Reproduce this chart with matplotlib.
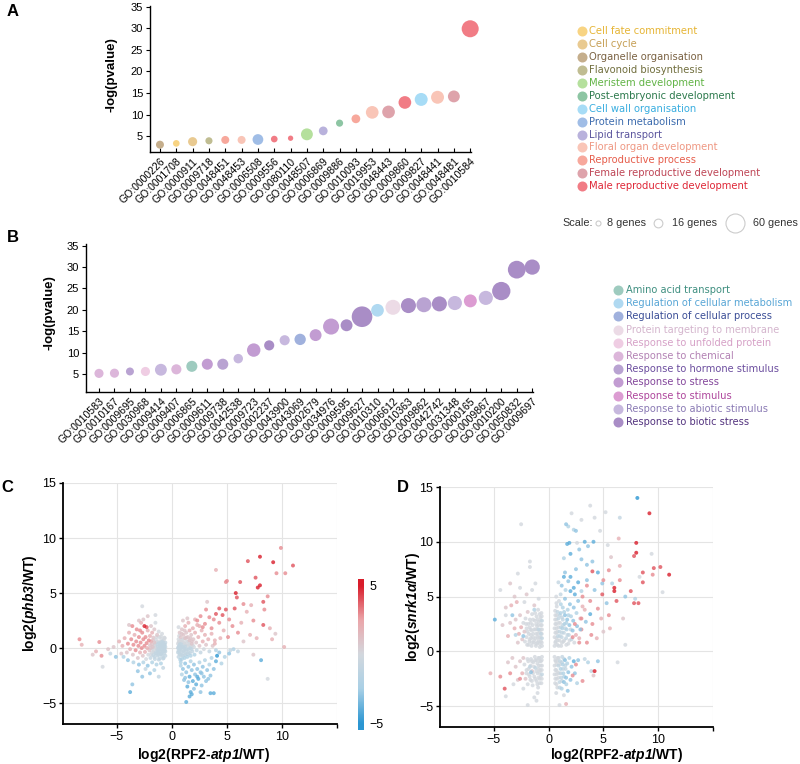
import numpy as np
import matplotlib
matplotlib.use('Agg')
import matplotlib.pyplot as plt
from matplotlib.colors import LinearSegmentedColormap

plt.rcParams['font.family'] = ['Liberation Sans', 'DejaVu Sans']
plt.rcParams['mathtext.fontset'] = 'custom'
plt.rcParams['mathtext.rm'] = 'Liberation Sans'
plt.rcParams['mathtext.it'] = 'Liberation Sans:italic'
plt.rcParams['mathtext.bf'] = 'Liberation Sans:bold'
plt.rcParams['mathtext.bfit'] = 'Liberation Sans:italic:bold'

# ---------------- panel A data: development GO terms ----------------
dev_terms = ['GO:0000226', 'GO:0001708', 'GO:0000911', 'GO:0009718', 'GO:0048451',
             'GO:0048453', 'GO:0006508', 'GO:0009556', 'GO:0080110', 'GO:0048507',
             'GO:0006869', 'GO:0009886', 'GO:0010093', 'GO:0019953', 'GO:0048443',
             'GO:0009860', 'GO:0009827', 'GO:0048441', 'GO:0048481', 'GO:0010584']
dev_logp = [3.0, 3.3, 3.7, 3.9, 4.1, 4.1, 4.2, 4.3, 4.5, 5.4,
            6.2, 8.0, 9.0, 10.5, 10.6, 12.8, 13.5, 14.0, 14.2, 29.9]
dev_genes = [14, 11, 17, 12, 14, 14, 22, 11, 8.5, 26,
             16, 12, 16, 29, 29, 29, 30, 30, 26, 49]
dev_group = ['Organelle organisation', 'Cell fate commitment', 'Cell cycle',
             'Flavonoid biosynthesis', 'Reproductive process', 'Floral organ development',
             'Protein metabolism', 'Male reproductive development', 'Male reproductive development',
             'Meristem development', 'Lipid transport', 'Post-embryonic development',
             'Reproductive process', 'Floral organ development', 'Female reproductive development',
             'Male reproductive development', 'Cell wall organisation', 'Floral organ development',
             'Female reproductive development', 'Male reproductive development']

# legend order, (circle colour, text colour)
dev_colors = {
    'Cell fate commitment': ('#f8d483', '#e6b535'),
    'Cell cycle': ('#e9ca91', '#c69f55'),
    'Organelle organisation': ('#c5ae8c', '#7a6243'),
    'Flavonoid biosynthesis': ('#c0bd92', '#716f3e'),
    'Meristem development': ('#b5e09d', '#62b446'),
    'Post-embryonic development': ('#8dc5a3', '#2d7a4d'),
    'Cell wall organisation': ('#a7dcf6', '#3aaee0'),
    'Protein metabolism': ('#a0bde6', '#3d6cae'),
    'Lipid transport': ('#b9b2dc', '#5c569e'),
    'Floral organ development': ('#f9c5b7', '#ef9883'),
    'Reproductive process': ('#f7a89c', '#e65e4c'),
    'Female reproductive development': ('#dea3ab', '#bf4656'),
    'Male reproductive development': ('#f17c85', '#df2838'),
}

# ---------------- panel B data: stress GO terms ----------------
stress_terms = ['GO:0010583', 'GO:0010167', 'GO:0009695', 'GO:0030968', 'GO:0009414',
                'GO:0009407', 'GO:0006865', 'GO:0009611', 'GO:0009738', 'GO:0042538',
                'GO:0009723', 'GO:0002237', 'GO:0043900', 'GO:0043069', 'GO:0002679',
                'GO:0034976', 'GO:0009595', 'GO:0009627', 'GO:0010310', 'GO:0006612',
                'GO:0010363', 'GO:0009862', 'GO:0042742', 'GO:0031348', 'GO:0000165',
                'GO:0009867', 'GO:0010200', 'GO:0050832', 'GO:0009697']
stress_logp = [5.15, 5.2, 5.6, 5.6, 6.0, 6.1, 6.8, 7.3, 7.3, 8.6,
               10.6, 11.7, 12.9, 13.1, 14.1, 16.1, 16.4, 18.4, 19.9, 20.6,
               21.0, 21.2, 21.4, 21.6, 22.1, 22.8, 24.4, 29.4, 30.0]
stress_genes = [17, 17, 14, 17, 26, 20, 23, 23, 23, 18,
                32, 20, 20, 24, 26, 44, 26, 70, 29, 39,
                39, 39, 39, 35, 30, 35, 56, 53, 40]
stress_group = ['Response to chemical', 'Response to chemical', 'Response to hormone stimulus',
                'Response to unfolded protein', 'Response to abiotic stimulus', 'Response to chemical',
                'Amino acid transport', 'Response to stress', 'Response to hormone stimulus',
                'Response to abiotic stimulus', 'Response to stress', 'Response to biotic stress',
                'Response to abiotic stimulus', 'Regulation of cellular process', 'Response to stress',
                'Response to stress', 'Response to biotic stress', 'Response to biotic stress',
                'Regulation of cellular metabolism', 'Protein targeting to membrane',
                'Response to biotic stress', 'Response to hormone stimulus', 'Response to biotic stress',
                'Response to abiotic stimulus', 'Response to stimulus', 'Response to abiotic stimulus',
                'Response to biotic stress', 'Response to biotic stress', 'Response to biotic stress']

stress_colors = {
    'Amino acid transport': ('#9ecbbf', '#3f8f80'),
    'Regulation of cellular metabolism': ('#b0d9f1', '#58a6d6'),
    'Regulation of cellular process': ('#a0b1dd', '#3b4e97'),
    'Protein targeting to membrane': ('#ecdbe6', '#d4b5cd'),
    'Response to unfolded protein': ('#efcde3', '#d6a1c7'),
    'Response to chemical': ('#dcb6da', '#b382b4'),
    'Response to hormone stimulus': ('#b9a3d2', '#6c4e9f'),
    'Response to stress': ('#c29cd2', '#83469b'),
    'Response to stimulus': ('#dc9cd2', '#ae469c'),
    'Response to abiotic stimulus': ('#c7b8de', '#8a7ab4'),
    'Response to biotic stress': ('#a98dc6', '#53337f'),
}

scale_genes = [8, 16, 60]

# ---------------- panel C data: phb3 vs RPF2-atp1 (x, y, colour value) ----------------
phb3_left = [
    (-0.6, 0.1, -1), (-0.6, -0.3, -1), (-0.6, 0.5, -1), (-0.6, -0.7, -1), (-0.65, 0.9, 0),
    (-0.7, 0.3, -1), (-0.7, -0.1, -1), (-0.7, -0.5, -1), (-0.75, 0.7, 0), (-0.75, -0.9, -1),
    (-0.8, 0.0, -1), (-0.8, 0.45, -1), (-0.85, -0.35, -1), (-0.9, 0.2, -1), (-0.9, -0.7, -1),
    (-0.95, 0.8, 0), (-1.0, -0.1, -1), (-1.0, 0.5, -1), (-1.05, -0.5, -1), (-1.1, 0.25, -1),
    (-1.1, -0.95, -1), (-1.15, 1.0, 0), (-1.2, 0.0, -1), (-1.2, 0.6, 0), (-1.25, -0.3, -1),
    (-1.3, -0.7, -1), (-1.3, 0.35, -1), (-1.35, 1.2, 1), (-1.4, -0.1, 0), (-1.45, 0.75, 0),
    (-1.5, -0.45, -1), (-1.5, 0.2, 0), (-1.55, -1.0, -1), (-1.6, 0.5, 1), (-1.65, -0.2, 0),
    (-1.7, 0.95, 1), (-1.7, -0.65, -1), (-1.75, 0.1, 1), (-1.8, 1.4, 2), (-1.85, -0.4, 0),
    (-1.9, 0.6, 2), (-1.95, -0.9, -1), (-2.0, 0.25, 1), (-2.0, 1.1, 2), (-2.05, -0.2, 1),
    (-2.1, 0.7, 3), (-2.15, -0.6, 0), (-2.2, 1.6, 2), (-2.25, 0.0, 2), (-2.3, 0.45, 3),
    (-2.35, -1.0, 0), (-2.4, 1.0, 3), (-2.45, -0.35, 2), (-2.5, 2.0, 5), (-2.5, 0.2, 3),
    (-2.6, 0.8, 3), (-2.65, -0.7, 1), (-2.7, 1.4, 3), (-2.75, 0.0, 3), (-2.8, 2.3, 2),
    (-2.85, 0.5, 3), (-2.9, -0.4, 2), (-3.0, 1.0, 3), (-3.05, 0.2, 3), (-3.1, -0.9, 1),
    (-3.2, 1.7, 3), (-3.25, 0.6, 3), (-3.3, -0.2, 3), (-3.4, 1.2, 2), (-3.5, 0.3, 3),
    (-3.55, -0.6, 1), (-3.6, 2.0, 3), (-3.7, 0.8, 3), (-3.8, -0.1, 2), (-3.9, 1.4, 2),
    (-4.0, 0.4, 3), (-4.1, -0.4, 1), (-4.3, 0.9, 2), (-4.5, 0.2, 2), (-4.6, -0.5, 1),
    (-2.3, 1.9, 4), (-2.9, 1.6, 3), (-1.6, 1.7, 1), (-1.2, 1.5, 0), (-0.9, 1.3, 0),
    (-2.6, 2.6, 1), (-3.0, 2.5, 1), (-1.9, 2.0, 1), (-1.5, 2.3, 0),
    (-1.0, -1.4, -2), (-1.4, -1.5, -2), (-1.8, -1.3, -2), (-2.2, -1.6, -3), (-2.6, -1.3, -2),
    (-3.0, -1.5, -3), (-3.5, -1.3, -2), (-4.0, -1.1, -3), (-4.4, -0.8, -2), (-5.1, -0.8, -3),
    (-0.8, -1.8, -1), (-1.6, -2.0, -2), (-2.0, -2.3, -3), (-2.7, -2.6, -3), (-3.6, -3.3, -3),
    (-3.8, -4.0, -4), (-3.1, -2.1, -3), (-1.2, -2.6, -1), (-2.4, -1.9, -1),
    (-8.4, 0.8, 3), (-8.2, 0.3, 2), (-6.6, 0.55, 3), (-6.9, -0.3, 2), (-6.4, -0.7, 3),
    (-6.3, -1.7, 0), (-7.2, -0.6, 1), (-5.8, -0.1, 1), (-5.3, 0.1, 1), (-5.6, -0.5, -1),
    (-4.8, 0.6, 2), (-2.7, 3.8, 0), (-3.9, 2.1, 1), (-2.2, 2.9, 1), (-1.5, 3.0, 0),
]
phb3_left_core = [
    (-0.65, 0.3, -1), (-0.65, -0.2, -1), (-0.72, 0.05, -1), (-0.78, -0.3, -1), (-0.82, 0.25, -1),
    (-0.88, 0.6, -1), (-0.92, -0.15, -1), (-0.97, -0.55, -1), (-1.02, 0.3, -1), (-1.08, 0.05, -1),
    (-1.12, -0.35, -1), (-1.18, 0.45, -1), (-1.22, -0.6, -1), (-1.28, 0.15, -1), (-1.33, -0.2, -1),
    (-1.38, 0.55, 0), (-1.43, -0.5, -1), (-1.48, 0.05, 0), (-1.53, 0.4, 0), (-1.58, -0.8, -1),
    (-1.63, 0.2, 0), (-1.68, -0.35, 0), (-1.73, 0.7, 1), (-1.78, -0.05, 0), (-1.83, 0.35, 1),
    (-1.88, -0.6, 0), (-1.93, 0.0, 1), (-0.7, 0.95, 0), (-0.8, -0.95, -1), (-1.0, 1.05, 0),
    (-1.2, -1.05, -1), (-1.4, 1.0, 0),
]
phb3_right = [
    (0.55, 0.0, -1), (0.55, 0.4, 0), (0.55, -0.4, -1), (0.6, 0.8, 0), (0.6, -0.8, -1),
    (0.65, 0.2, -1), (0.7, -0.2, -1), (0.7, 0.6, 0), (0.75, -0.6, -1), (0.8, 1.0, 1),
    (0.8, 0.0, -1), (0.85, 0.35, -1), (0.9, -0.4, -1), (0.9, -1.0, -2), (0.95, 0.75, 0),
    (1.0, 0.1, -1), (1.0, -0.7, -1), (1.05, 1.2, 1), (1.1, 0.45, 0), (1.1, -0.2, -1),
    (1.15, -0.9, -2), (1.2, 0.9, 1), (1.2, 0.15, -1), (1.25, -0.5, -1), (1.3, 1.4, 1),
    (1.3, 0.6, 0), (1.35, -0.1, -1), (1.4, -0.8, -2), (1.45, 1.0, 1), (1.5, 0.3, 0),
    (1.5, -0.4, -1), (1.6, 1.6, 2), (1.6, 0.7, 1), (1.65, 0.0, -1), (1.7, -0.7, -2),
    (1.75, 1.2, 1), (1.8, 0.4, 1), (1.85, -0.3, -1), (1.9, 1.8, 2), (1.95, 0.8, 1),
    (2.0, 0.1, 0), (2.05, -0.6, -2), (2.1, 1.4, 2), (2.2, 0.5, 1), (2.25, -0.2, -1),
    (2.3, 2.1, 2), (2.4, 1.0, 2), (2.5, 0.2, 1), (2.6, -0.4, -1), (2.7, 1.6, 2),
    (2.8, 0.6, 2), (2.9, -0.1, 0), (3.0, 1.2, 2), (3.1, 0.3, 1), (3.3, 0.8, 2),
    (3.4, -0.3, -1), (3.6, 1.3, 2), (3.7, 0.2, 1), (3.9, 0.7, 2), (4.0, -0.2, -2),
    (0.7, 1.4, 1), (0.9, 1.7, 1), (1.2, 2.0, 2), (1.5, 2.3, 2), (0.6, 1.9, 0),
    (1.0, 2.5, 1), (1.4, 2.7, 1), (0.8, -1.3, -2),
]
phb3_right_core = [
    (0.6, 0.1, -1), (0.6, -0.25, -1), (0.62, 0.55, 0), (0.68, -0.5, -1), (0.72, 0.35, -1),
    (0.78, -0.1, -1), (0.82, 0.7, 0), (0.88, -0.65, -1), (0.92, 0.15, -1), (0.98, 0.5, 0),
    (1.02, -0.3, -1), (1.08, 0.85, 0), (1.12, 0.0, -1), (1.18, -0.6, -1), (1.22, 0.35, 0),
    (1.28, -0.25, -1), (1.32, 0.95, 1), (1.38, 0.2, 0), (1.42, -0.55, -1), (1.48, 0.6, 0),
    (1.52, -0.1, -1), (1.58, 0.35, 0), (1.62, -0.45, -1), (1.68, 0.9, 1), (1.72, 0.15, 0),
    (1.78, -0.1, -1), (1.82, 0.6, 1), (1.9, 0.25, 0), (0.65, 1.1, 0), (0.9, 1.3, 1),
    (1.15, 1.6, 1), (0.75, -1.05, -2),
]
phb3_down = [
    (0.8, -1.6, -2), (1.0, -1.9, -3), (1.2, -1.4, -3), (1.3, -2.2, -3), (1.5, -1.7, -3),
    (1.6, -2.6, -4), (1.7, -1.2, -2), (1.8, -2.0, -3), (1.9, -3.0, -4), (2.0, -1.5, -3),
    (2.1, -2.4, -3), (2.2, -3.3, -4), (2.3, -1.9, -3), (2.4, -2.8, -4), (2.5, -1.3, -2),
    (2.6, -2.2, -3), (2.7, -3.4, -3), (2.8, -1.7, -3), (2.9, -2.6, -3), (3.0, -1.1, -2),
    (3.1, -3.0, -3), (3.2, -2.0, -3), (3.4, -1.5, -2), (3.5, -2.5, -3), (3.6, -0.9, -2),
    (3.8, -1.9, -3), (4.0, -1.2, -4), (4.1, -0.7, -5), (4.3, -0.4, -3), (1.1, -2.9, -3),
    (1.4, -3.5, -4), (1.3, -4.9, -4), (1.6, -4.4, -4), (1.8, -4.2, -4), (1.7, -4.0, -4),
    (2.0, -3.7, -3), (3.5, -4.1, -4), (3.8, -4.1, -4), (2.6, -4.0, -3), (0.9, -2.4, -2),
    (1.2, -2.7, -3), (1.5, -3.1, -3), (2.3, -2.6, -4), (2.7, -2.3, -3), (3.3, -2.8, -3),
    (4.5, -1.4, -2), (4.8, -0.8, -2), (5.2, -0.5, -3), (5.6, -0.1, -2), (6.0, -0.3, -1),
]
phb3_up = [
    (4.0, 7.1, 2), (4.9, 6.0, 3), (6.2, 6.0, 4), (6.9, 7.9, 4), (8.0, 8.3, 5), (9.9, 9.1, 3),
    (9.2, 7.8, 5), (9.5, 6.8, 3), (10.3, 6.8, 3), (11.0, 7.5, 4), (7.6, 6.4, 4), (7.8, 5.5, 5),
    (8.0, 5.7, 5), (8.7, 4.7, 3), (5.8, 5.0, 5), (5.9, 4.6, 4), (6.5, 4.0, 3), (8.3, 4.2, 4),
    (8.4, 3.5, 3), (8.3, 2.1, 4), (5.7, 3.6, 4), (4.9, 3.5, 4), (4.3, 3.6, 4), (4.6, 3.0, 4),
    (4.0, 3.1, 4), (3.8, 2.6, 3), (3.4, 2.8, 3), (3.1, 3.5, 3), (3.0, 2.2, 3), (2.6, 2.9, 3),
    (2.8, 1.9, 3), (5.1, 1.0, 3), (5.5, 2.0, 3), (6.0, 1.4, 3), (6.3, 2.3, 2), (7.4, 2.5, 3),
    (8.9, 1.8, 2), (9.1, 0.8, 2), (10.2, 0.1, 2), (8.1, -1.1, -4), (8.7, -2.8, 0), (7.4, -0.6, 1),
    (6.5, 0.6, 1), (7.7, 0.9, 2), (5.3, -0.2, -1), (4.7, 1.6, 2), (3.6, 1.8, 3), (4.3, 2.3, 3),
    (3.2, 4.2, 1), (2.3, 2.5, 3), (5.2, 2.6, 3), (6.8, 3.3, 2), (7.1, 1.2, 2), (9.4, 1.3, 1),
    (5.0, 6.1, 3), (7.2, 3.9, 2), (4.4, 0.9, 2), (2.5, 2.0, 2), (2.1, 2.6, 2), (3.9, 0.4, 2),
]

# ---------------- panel D data: snrk1a vs RPF2-atp1 (x, y, colour value) ----------------
snrk_ul = [
    (-0.6, 0.5, 0), (-0.6, 1.2, -1), (-0.6, 2.0, 0), (-0.6, 2.8, -1), (-0.65, 3.5, 0),
    (-0.7, 0.9, 0), (-0.7, 1.6, -1), (-0.7, 2.4, 0), (-0.75, 3.1, 0), (-0.8, 0.4, 0),
    (-0.85, 1.3, 0), (-0.9, 2.0, -1), (-0.9, 2.7, 0), (-0.95, 3.8, 0), (-1.0, 0.8, 0),
    (-1.0, 1.6, 0), (-1.05, 2.3, 0), (-1.1, 3.2, 0), (-1.15, 0.5, 0), (-1.2, 1.2, 0),
    (-1.2, 2.0, 0), (-1.25, 2.8, 0), (-1.3, 4.2, 1), (-1.35, 0.8, 0), (-1.4, 1.6, 0),
    (-1.45, 2.4, 0), (-1.5, 3.4, 0), (-1.55, 0.5, 0), (-1.6, 1.2, 0), (-1.65, 2.0, 0),
    (-1.7, 2.9, 0), (-1.75, 0.9, 0), (-1.8, 1.6, 0), (-1.85, 2.5, 0), (-1.9, 3.6, 1),
    (-1.95, 0.6, 0), (-2.0, 1.3, 0), (-2.0, 2.1, 0), (-2.1, 3.0, 0), (-2.15, 0.9, 0),
    (-2.2, 1.8, 1), (-2.3, 2.6, 0), (-2.4, 1.1, 1), (-2.5, 2.2, 2), (-2.6, 3.3, 1),
    (-2.7, 1.6, 2), (-2.8, 0.8, 1), (-2.9, 4.5, 2), (-3.1, 2.1, 2), (-3.3, 3.3, -3),
    (-3.0, 2.9, 1), (-3.5, 2.6, 1), (-3.7, 1.4, 2), (-3.9, 3.3, 0), (-4.2, 2.4, 1),
    (-4.9, 2.9, -4), (-4.4, 5.6, 0), (-3.5, 6.2, 1), (-2.8, 7.1, 0), (-3.1, 5.0, 1),
    (-2.2, 4.5, 0), (-1.7, 8.2, 0), (-1.7, 7.7, 0), (-2.5, 11.6, 0), (-1.2, 6.2, 0),
    (-2.0, 5.2, 1), (-1.5, 5.6, 0), (-0.9, 4.8, 0), (-2.6, 5.8, 0), (-3.4, 4.2, 2),
    (-3.9, 4.0, 1), (-1.3, 3.8, -2), (-2.3, 1.4, -3), (-3.0, 1.5, -2),
    (-0.62, 0.8, 0), (-0.62, 1.6, 0), (-0.62, 2.4, 0), (-0.62, 3.2, 0), (-0.72, 1.25, 0),
    (-0.72, 2.0, 0), (-0.72, 2.8, 0), (-0.82, 0.7, 0), (-0.82, 1.8, 0), (-0.82, 3.4, 0),
    (-0.92, 1.0, 0), (-0.92, 2.4, 0), (-1.02, 1.3, 0), (-1.02, 2.0, 0), (-1.02, 2.9, 0),
    (-1.12, 0.7, 0), (-1.12, 1.6, 0), (-1.12, 2.5, 0), (-1.22, 3.5, 0), (-1.32, 1.0, 0),
    (-1.32, 2.0, 0), (-1.42, 1.3, 0), (-1.42, 2.9, 0), (-1.52, 0.8, 0), (-1.52, 1.9, 0),
    (-1.62, 1.5, 0), (-1.62, 2.6, 0), (-1.72, 1.1, 0), (-1.72, 2.2, 0), (-1.82, 0.6, 0),
    (-1.92, 1.8, 0), (-2.05, 2.5, 0),
]
snrk_ll = [
    (-0.6, -0.5, 0), (-0.6, -1.3, 0), (-0.6, -2.1, -1), (-0.65, -2.9, 0), (-0.7, -0.9, 0),
    (-0.75, -1.7, 0), (-0.8, -2.5, 0), (-0.85, -0.6, 0), (-0.9, -1.3, 0), (-0.95, -3.3, 0),
    (-1.0, -2.0, 0), (-1.1, -0.8, 0), (-1.1, -2.7, 0), (-1.2, -1.5, -1), (-1.25, -0.5, 0),
    (-1.3, -2.3, 0), (-1.4, -1.0, 0), (-1.45, -3.1, 0), (-1.5, -1.8, 1), (-1.6, -0.7, 0),
    (-1.65, -2.6, 0), (-1.7, -1.4, -1), (-1.8, -2.1, 0), (-1.85, -0.9, 0), (-1.9, -3.0, 0),
    (-2.0, -1.7, 0), (-2.1, -2.5, 1), (-2.2, -1.2, 0), (-2.3, -3.4, 0), (-2.4, -2.0, 2),
    (-2.6, -0.9, 1), (-2.8, -2.6, 1), (-3.0, -1.4, 1), (-3.2, -3.0, 0), (-3.5, -2.0, 3),
    (-3.7, -1.0, 1), (-4.0, -3.4, 4), (-4.4, -2.3, 3), (-5.3, -2.0, 2), (-2.6, -2.5, 3),
    (-1.3, -4.2, 0), (-1.1, -4.5, 0), (-1.9, -4.9, 0), (-3.9, -4.1, 0), (-1.6, -1.9, -3),
    (-2.3, -0.6, 1), (-3.3, -0.6, 1), (-1.0, -3.8, 0),
    (-0.62, -0.8, 0), (-0.62, -1.7, 0), (-0.62, -2.5, 0), (-0.72, -1.3, 0), (-0.72, -2.2, 0),
    (-0.82, -0.9, 0), (-0.82, -1.9, 0), (-0.82, -2.9, 0), (-0.92, -0.6, 0), (-0.92, -1.6, 0),
    (-0.92, -2.4, 0), (-1.02, -1.1, 0), (-1.02, -3.0, 0), (-1.12, -1.8, 0), (-1.22, -0.8, 0),
    (-1.22, -2.5, 0), (-1.32, -1.4, 0), (-1.42, -2.0, 0), (-1.52, -0.9, 0), (-1.52, -2.7, 0),
    (-1.62, -1.3, 0), (-1.72, -2.3, 0), (-1.82, -1.6, 0), (-1.92, -0.7, 0), (-2.02, -2.0, 0),
]
snrk_ur = [
    (0.55, 0.5, 0), (0.55, 1.3, 0), (0.55, 2.1, 0), (0.6, 2.9, 0), (0.6, 3.7, 0),
    (0.65, 0.9, 0), (0.7, 1.7, 0), (0.7, 2.5, 0), (0.75, 3.3, 0), (0.75, 4.1, 0),
    (0.8, 0.6, 0), (0.85, 1.4, -1), (0.9, 2.2, 0), (0.9, 3.0, -1), (0.95, 4.6, 0),
    (1.0, 1.0, 0), (1.0, 1.8, -1), (1.05, 2.6, 0), (1.1, 3.5, -2), (1.1, 5.2, -1),
    (1.15, 0.5, 0), (1.2, 1.3, -1), (1.25, 2.1, -2), (1.3, 2.9, -1), (1.3, 4.0, -2),
    (1.35, 0.9, 0), (1.4, 1.7, -1), (1.45, 2.5, -2), (1.5, 3.3, -3), (1.5, 4.8, -3),
    (1.55, 5.6, -2), (1.6, 1.2, -1), (1.65, 2.0, -2), (1.7, 2.9, -3), (1.75, 3.8, -2),
    (1.8, 0.7, 0), (1.85, 1.5, -1), (1.9, 2.4, -3), (1.95, 4.3, -3), (2.0, 5.5, -4),
    (2.05, 3.2, -2), (2.1, 1.1, -1), (2.2, 1.9, -3), (2.25, 2.8, -3), (2.3, 4.0, -3),
    (2.35, 0.8, 0), (2.4, 5.2, -4), (2.5, 1.5, 2), (2.55, 3.5, -2), (2.6, 2.3, -3),
    (2.7, 4.6, -3), (2.8, 1.2, 2), (2.9, 3.0, 2), (3.0, 2.0, 3), (3.1, 4.1, 2),
    (0.7, 5.0, 0), (0.9, 6.3, -1), (1.2, 6.0, -3), (1.4, 6.8, -4), (1.8, 6.4, -3),
    (0.62, 0.8, 0), (0.62, 1.7, 0), (0.62, 2.5, 0), (0.62, 3.3, 0), (0.72, 1.2, 0),
    (0.72, 2.1, 0), (0.72, 2.9, 0), (0.72, 4.4, 0), (0.82, 1.0, 0), (0.82, 1.8, 0),
    (0.82, 3.6, -1), (0.92, 0.5, 0), (0.92, 2.6, 0), (1.02, 1.4, -1), (1.02, 3.3, -1),
    (1.12, 2.2, -1), (1.12, 4.3, -2), (1.22, 0.8, 0), (1.22, 1.7, -1), (1.22, 3.1, -1),
    (1.32, 2.4, -1), (1.42, 1.0, 0), (1.42, 3.6, -2), (1.52, 2.1, -1), (1.62, 0.6, 0),
    (1.62, 2.6, -2), (1.72, 1.5, -1), (1.82, 3.3, -2), (1.92, 1.0, 0), (2.02, 2.0, -1),
]
snrk_lr = [
    (0.55, -0.5, 0), (0.55, -1.3, 0), (0.55, -2.1, 0), (0.6, -2.9, 0), (0.65, -0.9, 0),
    (0.7, -1.7, 0), (0.75, -2.5, 0), (0.8, -3.3, 0), (0.85, -0.6, 0), (0.9, -1.3, -1),
    (0.95, -2.0, 0), (1.0, -2.8, -1), (1.05, -0.9, -1), (1.1, -1.6, -2), (1.15, -2.4, -1),
    (1.2, -3.4, -2), (1.25, -0.5, -1), (1.3, -1.2, -2), (1.35, -2.0, -2), (1.4, -2.8, -3),
    (1.5, -0.8, -3), (1.55, -1.6, -1), (1.6, -2.4, -3), (1.7, -1.1, -2), (1.75, -3.6, -3),
    (1.8, -1.9, -3), (1.9, -0.6, -2), (2.0, -2.6, -3), (2.1, -1.4, -3), (2.3, -0.9, -4),
    (2.4, -2.0, -3), (2.5, -1.2, 3), (2.7, -0.8, -3), (2.6, -2.9, -2), (3.1, -2.7, 3),
    (2.2, -2.2, 3), (1.0, -4.9, 0), (1.6, -4.8, 2), (1.4, -4.0, 0), (0.7, -3.8, 0),
    (3.6, -1.0, -2), (3.9, -1.8, -1), (4.2, -1.8, 5), (4.5, -0.9, -3), (4.1, -2.2, 1),
    (6.3, -1.0, 0), (3.3, -0.7, -1),
    (0.62, -0.8, 0), (0.62, -1.7, 0), (0.62, -2.5, 0), (0.72, -1.2, 0), (0.72, -2.1, 0),
    (0.72, -3.0, 0), (0.82, -0.9, 0), (0.82, -1.9, 0), (0.92, -0.6, 0), (0.92, -2.4, 0),
    (1.02, -1.2, 0), (1.02, -3.3, -1), (1.12, -2.0, -1), (1.22, -1.0, -1), (1.22, -2.7, -1),
    (1.32, -1.6, -1), (1.42, -0.7, -1), (1.42, -2.3, -2), (1.52, -1.3, -1), (1.62, -3.0, -2),
]
snrk_up = [
    (8.1, 14.0, -5), (9.2, 12.6, 5), (3.8, 13.3, 0), (5.2, 12.7, 0), (6.5, 12.2, -1),
    (2.1, 12.6, 0), (4.2, 12.2, 0), (1.6, 11.6, -3), (1.8, 11.4, -2), (2.5, 11.0, -3),
    (2.3, 11.1, -2), (1.7, 9.8, -4), (1.9, 9.9, -4), (3.3, 10.0, -4), (4.1, 10.0, -4),
    (3.6, 9.6, -3), (2.0, 8.9, -4), (3.0, 8.4, -3), (4.0, 8.2, -3), (3.5, 7.9, -3),
    (2.5, 7.5, -3), (1.5, 7.2, -3), (2.0, 6.8, -4), (4.5, 7.2, -4), (3.5, 6.5, -3),
    (4.9, 6.2, -3), (5.4, 9.7, 0), (8.0, 9.9, 5), (8.0, 9.0, 5), (7.8, 8.7, 4),
    (9.6, 7.6, 4), (10.2, 7.7, 4), (11.0, 7.0, 5), (8.6, 7.2, 4), (9.5, 7.0, 3),
    (8.6, 6.3, 4), (7.5, 5.5, 4), (7.8, 4.4, 4), (8.2, 4.4, 4), (6.0, 5.8, 5),
    (6.0, 5.5, 5), (6.2, 4.6, 4), (5.0, 6.5, 3), (5.5, 7.4, 3), (4.0, 7.3, 4),
    (3.5, 6.0, 3), (3.1, 5.0, 3), (4.5, 3.9, 3), (4.9, 5.2, 4), (3.0, 3.0, 3),
    (2.4, 2.5, 3), (2.2, 1.3, 3), (2.8, 0.8, 3), (3.5, 0.8, 3), (7.0, 0.6, 0),
    (10.4, 5.4, 0), (9.4, 8.9, 0), (8.3, 6.8, 0), (6.5, 7.8, 2), (5.7, 8.6, 1),
    (6.4, 10.3, 2), (7.0, 5.0, -3), (7.9, 4.8, -2), (6.5, 6.5, 3), (5.8, 6.2, -2),
    (4.2, 5.6, -3), (3.8, 4.6, 3), (3.3, 3.8, 2), (4.0, 2.5, 3), (4.8, 3.0, 2),
    (5.3, 4.4, -3), (5.5, 3.3, 3), (5.6, 2.1, 2), (6.8, 3.0, 1), (3.9, 1.5, 3),
    (2.7, 6.3, -4), (2.3, 5.8, -4), (1.4, 8.5, -2), (2.8, 9.3, -3), (3.0, 5.5, -2),
    (4.4, 1.2, 2), (5.0, 1.8, 1), (2.9, 2.0, -3), (3.4, 2.7, -3), (3.8, 3.4, -4),
    (2.6, 9.9, 0), (4.7, 11.0, 0), (3.0, 12.0, 0),
]

W, H = 800, 764
fig = plt.figure(figsize=(8, 7.64), dpi=100)
cmap = LinearSegmentedColormap.from_list('bgr', ['#2b96d2', '#a9d0e6', '#d3d8de', '#eba6aa', '#d91d2b'])


def px_axes(left, top, right, bottom):
    return fig.add_axes([left / W, 1 - bottom / H, (right - left) / W, (bottom - top) / H])


def gene_size(g):
    # diameter in px follows the scale key (8, 16, 60 genes)
    d = np.sqrt(max(6.46 * g - 26.7, 4))
    return (d * 0.72) ** 2


def bubble_axes(ax, terms, logp, genes, groups, colors, xlim, ylim):
    x = np.arange(len(terms))
    ax.scatter(x, logp, s=[gene_size(g) for g in genes],
               c=[colors[g][0] for g in groups], linewidths=0, zorder=3, clip_on=False)
    ax.set_xlim(*xlim)
    ax.set_ylim(*ylim)
    ax.set_xticks(x)
    ax.set_xticklabels(terms, rotation=45, ha='right', va='top', rotation_mode='anchor', fontsize=7.6)
    ax.set_yticks([5, 10, 15, 20, 25, 30, 35])
    ax.tick_params(axis='x', direction='in', length=3, pad=3, width=0.8)
    ax.tick_params(axis='y', direction='out', length=3, labelsize=8, width=0.8, pad=2)
    for s in ['top', 'right']:
        ax.spines[s].set_visible(False)
    for s in ['left', 'bottom']:
        ax.spines[s].set_linewidth(1.0)


def scatter_axes(ax, groups):
    pts = np.array([p for g in groups for p in g])
    order = np.argsort(np.abs(pts[:, 2]), kind='stable')
    pts = pts[order]
    ax.scatter(pts[:, 0], pts[:, 1], c=pts[:, 2], cmap=cmap, vmin=-5, vmax=5,
               s=8, linewidths=0, alpha=0.8, zorder=3)
    ax.set_xlim(-9.9, 15)
    ax.set_ylim(-6.9, 15)
    ax.set_xticks([-5, 0, 5, 10, 15])
    ax.set_xticklabels(['\u22125', '0', '5', '10', ''])
    ax.set_yticks([-5, 0, 5, 10, 15])
    ax.set_yticklabels(['\u22125', '0', '5', '10', '15'])
    ax.grid(color='#e4e4e4', lw=0.8)
    ax.set_axisbelow(True)
    ax.tick_params(direction='out', length=3, labelsize=9, width=1, pad=2)
    for s in ['top', 'right']:
        ax.spines[s].set_visible(False)
    for s in ['left', 'bottom']:
        ax.spines[s].set_linewidth(1.3)


axA = px_axes(150, 5.5, 471, 152)
bubble_axes(axA, dev_terms, dev_logp, dev_genes, dev_group, dev_colors, (-0.61, 19.05), (1.3, 35.3))

axB = px_axes(86, 244, 533, 392)
bubble_axes(axB, stress_terms, stress_logp, stress_genes, stress_group, stress_colors, (-0.84, 28.05), (0.8, 35.4))

axC = px_axes(63, 483, 337, 724)
scatter_axes(axC, [phb3_left_core, phb3_right_core, phb3_left, phb3_right, phb3_down, phb3_up])

axD = px_axes(440, 487, 713, 727)
scatter_axes(axD, [snrk_ll, snrk_ul, snrk_lr, snrk_ur, snrk_up])

# colour bar for C
cax = px_axes(358, 579, 364, 730)
grad = np.linspace(5.45, -5.45, 256)[:, None]
cax.imshow(grad, aspect='auto', cmap=cmap, vmin=-5, vmax=5, extent=[0, 1, -5.45, 5.45])
cax.set_xticks([])
cax.yaxis.tick_right()
cax.set_yticks([-5, 5])
cax.set_yticklabels(['\u22125', '5'])
cax.tick_params(length=0, labelsize=9, pad=4)
for s in cax.spines.values():
    s.set_visible(False)

# overlay in pixel coordinates for labels and legends
ov = fig.add_axes([0, 0, 1, 1])
ov.set_xlim(0, W)
ov.set_ylim(H, 0)
ov.axis('off')

for letter, (lx, ly) in zip('ABCD', [(13, 11), (13, 237), (7, 487), (403, 488)]):
    ov.text(lx, ly, letter, fontsize=12, fontweight='bold', ha='center', va='center')

ov.text(112, 75, '-log(pvalue)', rotation=90, fontsize=9.5, fontweight='bold', ha='center', va='center')
ov.text(49, 313, '-log(pvalue)', rotation=90, fontsize=9.5, fontweight='bold', ha='center', va='center')

ov.text(30, 603, r'log2($\mathbfit{phb3}$/WT)', rotation=90, fontsize=10, fontweight='bold', ha='center', va='center')
ov.text(204, 755, r'log2(RPF2-$\mathbfit{atp1}$/WT)', fontsize=10, fontweight='bold', ha='center', va='center')
ov.text(413, 607, r'log2($\mathbfit{snrk1α}$/WT)', rotation=90, fontsize=10, fontweight='bold', ha='center', va='center')
ov.text(617, 755, r'log2(RPF2-$\mathbfit{atp1}$/WT)', fontsize=10, fontweight='bold', ha='center', va='center')

# category legends
for i, (name, (cc, tc)) in enumerate(dev_colors.items()):
    y = 31 + 12.94 * i
    ov.scatter(582, y, s=52, color=cc, linewidths=0)
    ov.text(589, y, name, color=tc, fontsize=7.2, family='DejaVu Sans', va='center')

for i, (name, (cc, tc)) in enumerate(stress_colors.items()):
    y = 290 + 13.2 * i
    ov.scatter(618, y, s=52, color=cc, linewidths=0)
    ov.text(626, y, name, color=tc, fontsize=7.1, family='DejaVu Sans', va='center')

# size key
ov.text(562, 223, 'Scale:', fontsize=7.8, va='center', color='#333333')
for g, cx, tx in zip(scale_genes, [598, 658, 735], [607, 672, 753]):
    ov.scatter(cx, 223, s=gene_size(g), facecolor='white', edgecolor='#cccccc', linewidths=0.8)
    ov.text(tx, 223, '%d genes' % g, fontsize=7.8, va='center', color='#333333')

fig.savefig('out.png', dpi=100)
